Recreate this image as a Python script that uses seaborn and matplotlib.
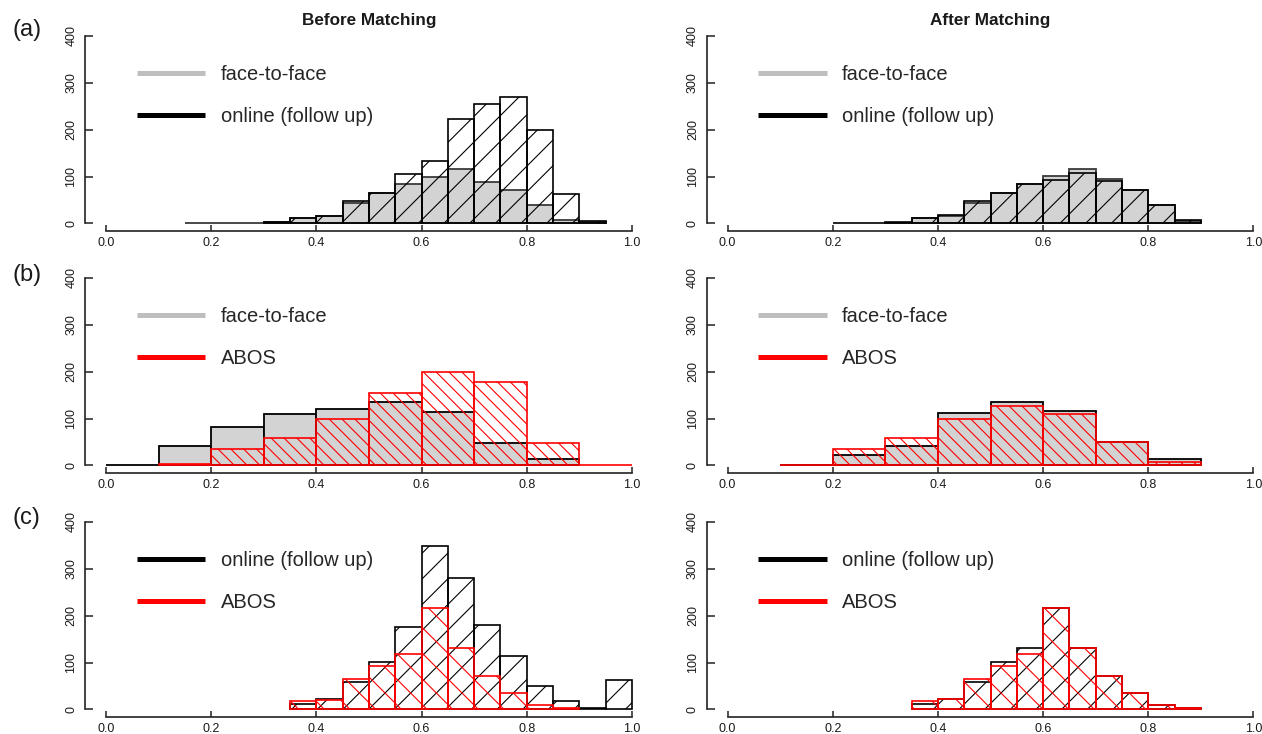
import numpy as np
import matplotlib
matplotlib.use("Agg")
import matplotlib.pyplot as plt
from matplotlib.lines import Line2D
import seaborn as sns

# ---------------- data (counts per bin) ----------------
# Row (a): face-to-face vs online (follow up), bin width 0.05
a_before_f2f_start = 0.15
a_before_f2f = [0, 0, 0, 3, 11, 15, 44, 65, 84, 100, 117, 89, 72, 40, 7, 3]
a_before_online_start = 0.30
a_before_online = [3, 12, 17, 49, 65, 105, 133, 222, 255, 269, 200, 63, 5]
a_after_f2f_start = 0.30
a_after_f2f = [1, 12, 16, 43, 65, 84, 101, 117, 95, 72, 40, 6]
a_after_online_start = 0.20
a_after_online = [0, 0, 4, 12, 18, 48, 65, 84, 92, 107, 90, 71, 40, 7]
a_width = 0.05

# Row (b): face-to-face vs ABOS, bin width 0.1
b_before_f2f_start = 0.0
b_before_f2f = [1, 41, 81, 109, 121, 135, 114, 49, 14]
b_before_abos_start = 0.1
b_before_abos = [4, 35, 58, 100, 154, 200, 177, 49, 0]
b_after_f2f_start = 0.1
b_after_f2f = [2, 22, 42, 112, 136, 116, 50, 14]
b_after_abos_start = 0.1
b_after_abos = [1, 36, 59, 100, 126, 109, 51, 8]
b_width = 0.1

# Row (c): online (follow up) vs ABOS, bin width 0.05
c_before_online_start = 0.35
c_before_online = [12, 22, 58, 102, 175, 348, 280, 180, 114, 51, 18, 4, 63]
c_before_abos_start = 0.35
c_before_abos = [18, 21, 66, 93, 119, 217, 131, 72, 35, 10, 4]
c_after_online_start = 0.35
c_after_online = [12, 22, 58, 102, 131, 217, 131, 72, 35, 10, 4]
c_after_abos_start = 0.35
c_after_abos = [18, 22, 66, 93, 119, 217, 131, 72, 35, 10, 4]
c_width = 0.05

x_ticks = [0.0, 0.2, 0.4, 0.6, 0.8, 1.0]
x_ticklabels = ["0.0", "0.2", "0.4", "0.6", "0.8", "1.0"]
y_ticks = [0, 100, 200, 300, 400]
y_ticklabels = ["0", "100", "200", "300", "400"]

col_titles = ["Before Matching", "After Matching"]
row_labels = ["(a)", "(b)", "(c)"]
legend_labels = [["face-to-face", "online (follow up)"],
                 ["face-to-face", "ABOS"],
                 ["online (follow up)", "ABOS"]]

# ---------------- style ----------------
# A lower dpi makes matplotlib's hatch spacing (fixed per inch) closer to the
# reference; all point sizes are rescaled by S so they look as at 100 dpi.
DPI = 77
S = 100 / DPI

sns.set_style("white")
plt.rcParams["font.family"] = ["Liberation Sans", "DejaVu Sans"]
plt.rcParams["hatch.linewidth"] = 0.8 * S

W, H = 1262, 734
fig = plt.figure(figsize=(W / DPI, H / DPI), dpi=DPI)

GRAY_FILL = "#D3D3D3"
GRAY_LEG = "#BEBEBE"
RED = "#FF0000"
DARK = "#1a1a1a"


def hist(ax, start, width, counts, **kw):
    counts = np.asarray(counts, dtype=float)
    edges = start + width * np.arange(len(counts) + 1)
    centers = (edges[:-1] + edges[1:]) / 2
    sns.histplot(x=centers, weights=counts, bins=[float(e) for e in edges],
                 ax=ax, **kw)


def gray_bars(ax, start, width, counts, edge="#3a3a3a"):
    hist(ax, start, width, counts, fill=True, color=GRAY_FILL, alpha=1,
         edgecolor=edge, linewidth=1.3 * S)


def hatch_bars(ax, start, width, counts, color, hatch):
    hist(ax, start, width, counts, fill=False, color=color, hatch=hatch,
         linewidth=1.2 * S)


ax_w = 568
ax_h = 202.7
lefts = [85, 706.5]
bottoms = [231, 473, 717]

axes = [[None, None] for _ in range(3)]
for r in range(3):
    for c in range(2):
        ax = fig.add_axes([lefts[c] / W, 1 - bottoms[r] / H, ax_w / W, ax_h / H])
        axes[r][c] = ax

# Row (a)
gray_bars(axes[0][0], a_before_f2f_start, a_width, a_before_f2f)
hatch_bars(axes[0][0], a_before_online_start, a_width, a_before_online, "black", "/")
gray_bars(axes[0][1], a_after_f2f_start, a_width, a_after_f2f)
hatch_bars(axes[0][1], a_after_online_start, a_width, a_after_online, "black", "/")

# Row (b)
gray_bars(axes[1][0], b_before_f2f_start, b_width, b_before_f2f, edge="black")
hatch_bars(axes[1][0], b_before_abos_start, b_width, b_before_abos, RED, "\\\\")
gray_bars(axes[1][1], b_after_f2f_start, b_width, b_after_f2f, edge="black")
hatch_bars(axes[1][1], b_after_abos_start, b_width, b_after_abos, RED, "\\\\")

# Row (c)
hatch_bars(axes[2][0], c_before_online_start, c_width, c_before_online, "black", "/")
hatch_bars(axes[2][0], c_before_abos_start, c_width, c_before_abos, RED, "\\")
hatch_bars(axes[2][1], c_after_online_start, c_width, c_after_online, "black", "/")
hatch_bars(axes[2][1], c_after_abos_start, c_width, c_after_abos, RED, "\\")

legend_colors = [[GRAY_LEG, "black"], [GRAY_LEG, RED], ["black", RED]]

for r in range(3):
    for c in range(2):
        ax = axes[r][c]
        ax.set_xlim(-0.04, 1.04)
        ax.set_ylim(-16, 416)
        ax.set_xlabel("")
        ax.set_ylabel("")
        ax.set_facecolor("none")
        for s in ["top", "right"]:
            ax.spines[s].set_visible(False)
        for s in ["left", "bottom"]:
            ax.spines[s].set_color("#222222")
            ax.spines[s].set_linewidth(1.2 * S)
        ax.spines["left"].set_bounds(0, 400)
        ax.spines["bottom"].set_bounds(0, 1)
        ax.set_xticks(x_ticks)
        ax.set_xticklabels(x_ticklabels)
        ax.set_yticks(y_ticks)
        ax.set_yticklabels(y_ticklabels, rotation=90, va="center")
        ax.tick_params(axis="x", bottom=True, direction="in", length=4.5 * S,
                       width=1.1 * S, pad=4.3 * S, labelsize=9 * S,
                       colors="#222222", labelcolor=DARK)
        ax.tick_params(axis="y", left=True, direction="in", length=6 * S,
                       width=1.1 * S, pad=5.5 * S, labelsize=9 * S,
                       colors="#222222", labelcolor=DARK)
        handles = [Line2D([], [], color=col, lw=3.6 * S, solid_capstyle="butt")
                   for col in legend_colors[r]]
        ax.legend(handles, legend_labels[r], loc="upper left",
                  bbox_to_anchor=(0.0915, 0.818), bbox_transform=ax.transAxes,
                  frameon=False, fontsize=14.5 * S, handlelength=3.4,
                  handletextpad=0.75, labelspacing=1.15, borderpad=0,
                  borderaxespad=0)

for c in range(2):
    cx = (lefts[c] + ax_w / 2) / W
    fig.text(cx, 1 - 20 / H, col_titles[c], ha="center", va="center",
             fontweight="bold", fontsize=12.3 * S, color=DARK)

for r, ypx in enumerate([30, 275, 518]):
    fig.text(12 / W, 1 - ypx / H, row_labels[r], ha="left", va="center",
             fontsize=17 * S, color=DARK)

fig.savefig("out.png", dpi=DPI)
